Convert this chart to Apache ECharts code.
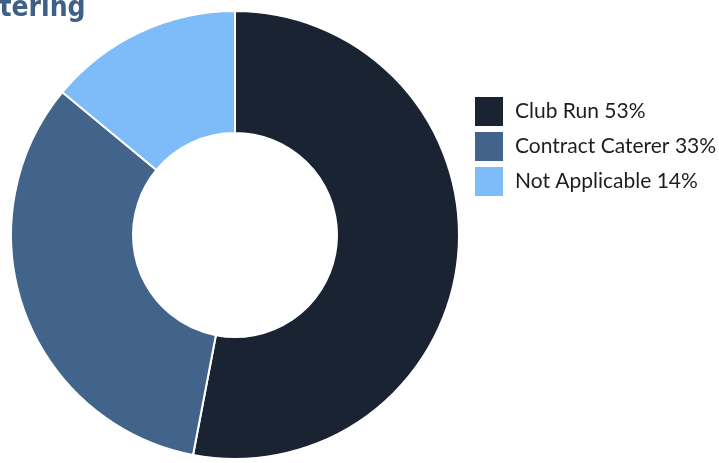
<!DOCTYPE html>
<html>
<head>
<meta charset="utf-8">
<script src="https://cdn.jsdelivr.net/npm/echarts@6/dist/echarts.min.js"></script>
<style>
  html, body { margin: 0; padding: 0; background: #ffffff; }
  #chart { width: 719px; height: 463px; }
</style>
</head>
<body>
<div id="chart"></div>
<script>
// Catering arrangements, share of clubs (%)
const categories = ['Club Run', 'Contract Caterer', 'Not Applicable'];
const shares = [53, 33, 14];
const sliceColors = ['#1a2331', '#42648a', '#7ebbf9'];

const chart = echarts.init(document.getElementById('chart'), null, { renderer: 'canvas' });

const data = categories.map((name, i) => ({
  name: name,
  value: shares[i],
  itemStyle: { color: sliceColors[i] }
}));

chart.setOption({
  animation: false,
  backgroundColor: '#ffffff',
  graphic: [{
    type: 'text',
    left: -36,
    top: -5,
    style: {
      text: 'Catering',
      font: 'bold 28px "Liberation Sans Narrow", "DejaVu Sans Condensed", sans-serif',
      fill: '#3e5f86'
    }
  }],
  legend: {
    orient: 'vertical',
    left: 475,
    top: 97,
    padding: 0,
    itemWidth: 28,
    itemHeight: 29,
    itemGap: 6,
    icon: 'rect',
    symbolKeepAspect: false,
    selectedMode: false,
    itemStyle: { borderWidth: 0 },
    formatter: function (name) {
      const i = categories.indexOf(name);
      return name + ' ' + shares[i] + '%';
    },
    textStyle: {
      fontFamily: 'Lato, sans-serif',
      fontSize: 21,
      color: '#1e1e1e',
      padding: [0, 0, 0, 7]
    },
    data: categories
  },
  series: [{
    type: 'pie',
    center: [235, 235],
    radius: [102, 224],
    startAngle: 90,
    clockwise: true,
    label: { show: false },
    labelLine: { show: false },
    emphasis: { disabled: true },
    itemStyle: { borderColor: '#ffffff', borderWidth: 2 },
    data: data
  }]
});
</script>
</body>
</html>
